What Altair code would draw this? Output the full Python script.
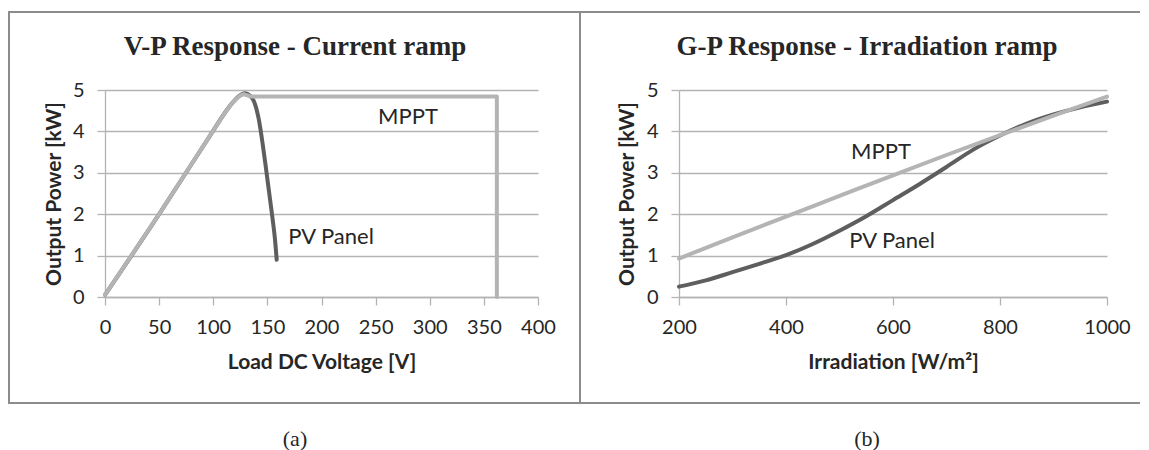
import altair as alt
import pandas as pd

# ---------------- data ----------------
# (a) V-P response, current ramp
vp_pv_v = [0, 50, 100, 110, 118, 124, 129, 134, 138, 142, 146, 149, 152, 155, 157, 158.6]
vp_pv_p = [0.05, 2.0, 4.02, 4.42, 4.7, 4.86, 4.92, 4.86, 4.7, 4.3, 3.63, 3.05, 2.45, 1.85, 1.4, 0.9]
vp_mppt_v = [0, 50, 100, 110, 118, 124, 128, 135, 200, 300, 362, 362]
vp_mppt_p = [0.05, 2.0, 4.02, 4.42, 4.7, 4.85, 4.9, 4.84, 4.84, 4.84, 4.84, 0.0]

# (b) G-P response, irradiation ramp
gp_pv_g = [200, 250, 300, 350, 400, 450, 500, 550, 600, 650, 700, 750, 800, 850, 900, 950, 1000]
gp_pv_p = [0.25, 0.4, 0.6, 0.8, 1.01, 1.28, 1.6, 1.95, 2.34, 2.73, 3.14, 3.56, 3.9, 4.19, 4.41, 4.58, 4.72]
gp_mppt_g = [200, 300, 400, 500, 600, 700, 800, 900, 1000]
gp_mppt_p = [0.93, 1.44, 1.94, 2.44, 2.94, 3.43, 3.91, 4.38, 4.84]

vp_xticks = [0, 50, 100, 150, 200, 250, 300, 350, 400]
gp_xticks = [200, 400, 600, 800, 1000]
yticks = [0, 1, 2, 3, 4, 5]

titles = ["V-P Response - Current ramp", "G-P Response - Irradiation ramp"]
xtitles = ["Load DC Voltage [V]", "Irradiation  [W/m²]"]
ytitle = "Output Power [kW]"
series_labels = ["MPPT", "PV Panel"]
captions = ["(a)", "(b)"]

# ---------------- style ----------------
FONT = "Lato"
SERIF = "Liberation Serif"
DARK = "#5e5e5e"
LIGHT = "#b4b4b4"
GRID = "#b3b3b3"
BORDER = "#8c8c8c"
TEXT = "#262626"
H = 207


def axes(xticks, xtitle, width, ytitle_x):
    xaxis = alt.Axis(values=xticks, format="d", grid=False, domainColor=GRID, domainWidth=1.3,
                     tickColor=GRID, tickWidth=1.3, tickSize=8, labelFont=FONT,
                     labelFontSize=20, labelColor=TEXT, labelPadding=12, labelFlush=False,
                     title=xtitle, titleFont=FONT, titleFontSize=21, titleFontWeight="bold",
                     titleColor=TEXT, titleX=width / 2, titleY=65, titleAlign="center",
                     titleBaseline="middle")
    yaxis = alt.Axis(values=yticks, format="d", grid=True, gridColor=GRID, gridWidth=1.3,
                     domainColor=GRID, domainWidth=1.3, tickColor=GRID, tickWidth=1.3,
                     tickSize=8, labelFont=FONT, labelFontSize=20, labelColor=TEXT,
                     labelPadding=13, title=ytitle, titleFont=FONT, titleFontSize=21,
                     titleFontWeight="bold", titleColor=TEXT, titleAngle=270,
                     titleX=ytitle_x, titleY=H / 2, titleAlign="center",
                     titleBaseline="middle")
    return xaxis, yaxis


def line(xs, ys, color, interp, xscale, yscale, xaxis, yaxis):
    df = pd.DataFrame({"x": xs, "y": ys, "i": list(range(len(xs)))})
    return alt.Chart(df).mark_line(color=color, strokeWidth=4, interpolate=interp,
                                   strokeCap="round", strokeJoin="round").encode(
        x=alt.X("x:Q", scale=xscale, axis=xaxis),
        y=alt.Y("y:Q", scale=yscale, axis=yaxis),
        order="i:Q",
    )


def text(s, x, y, font, size, weight="normal"):
    return alt.Chart(pd.DataFrame({"t": [s]})).mark_text(
        font=font, fontSize=size, fontWeight=weight, color=TEXT, align="center",
        baseline="middle").encode(x=alt.value(x), y=alt.value(y), text="t:N")


one = pd.DataFrame({"k": [0]})

# ---------------- panel (a) ----------------
W1 = 433
xs1 = alt.Scale(domain=[0, 400], nice=False)
ys = alt.Scale(domain=[0, 5], nice=False)
xa1, ya1 = axes(vp_xticks, xtitles[0], W1, -51)
border1 = alt.Chart(one).mark_rect(filled=False, stroke=BORDER, strokeWidth=2).encode(
    x=alt.value(-96), x2=alt.value(475), y=alt.value(-78), y2=alt.value(313))
left = alt.layer(
    border1,
    line(vp_pv_v, vp_pv_p, DARK, "monotone", xs1, ys, xa1, ya1),
    line(vp_mppt_v, vp_mppt_p, LIGHT, "linear", xs1, ys, xa1, ya1),
    text(titles[0], 190, -43, SERIF, 27, "bold"),
    text(series_labels[0], 303, 27, FONT, 22),
    text(series_labels[1], 226, 147, FONT, 22),
    text(captions[0], 190, 349, SERIF, 22),
).properties(width=W1, height=H)

# ---------------- panel (b) ----------------
W2 = 428
xs2 = alt.Scale(domain=[200, 1000], nice=False)
xa2, ya2 = axes(gp_xticks, xtitles[1], W2, -52)
rules = []
for (a, b, c, d) in [(-99, 461, -78, -78), (-99, -99, -78, 313), (-99, 461, 313, 313)]:
    rules.append(alt.Chart(one).mark_rule(color=BORDER, strokeWidth=2).encode(
        x=alt.value(a), x2=alt.value(b), y=alt.value(c), y2=alt.value(d)))
right = alt.layer(
    *rules,
    line(gp_pv_g, gp_pv_p, DARK, "monotone", xs2, ys, xa2, ya2),
    line(gp_mppt_g, gp_mppt_p, LIGHT, "monotone", xs2, ys, xa2, ya2),
    text(titles[1], 188, -43, SERIF, 27, "bold"),
    text(series_labels[0], 202, 62, FONT, 22),
    text(series_labels[1], 213, 151, FONT, 22),
    text(captions[1], 188, 349, SERIF, 22),
).properties(width=W2, height=H)

chart = alt.hconcat(left, right, spacing=-2).properties(
    padding={"left": 0, "top": 3, "right": 0, "bottom": 0},
    background="white",
).configure_view(stroke=None)

chart.save("out.html", embed_options={"renderer": "svg", "actions": False})
